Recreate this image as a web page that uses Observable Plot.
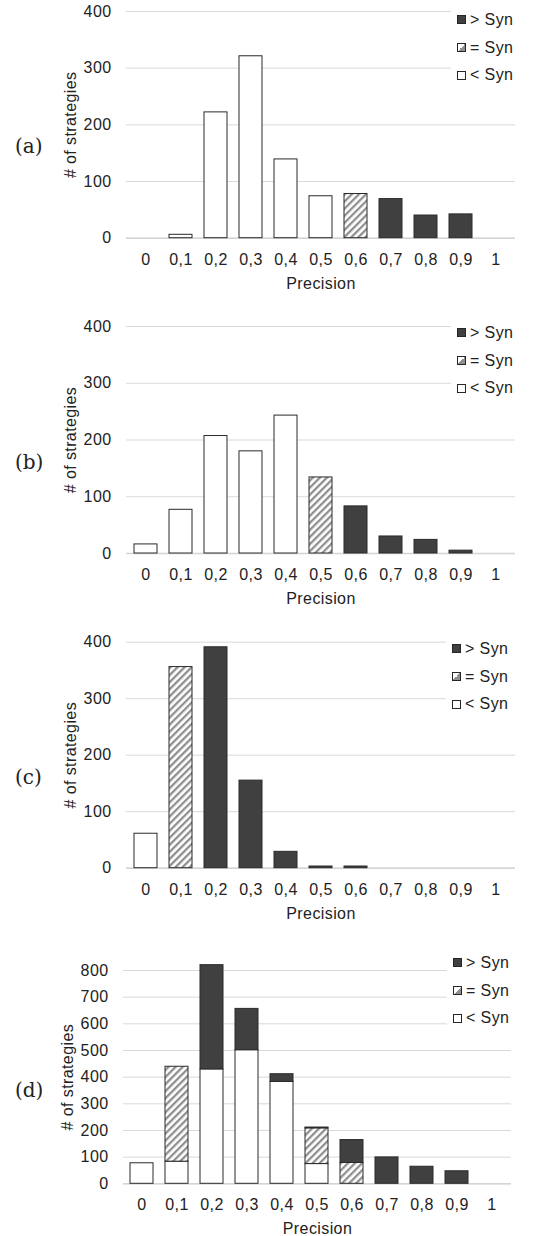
<!DOCTYPE html>
<html><head><meta charset="utf-8">
<script src="https://cdn.jsdelivr.net/npm/d3@7"></script>
<script src="https://cdn.jsdelivr.net/npm/@observablehq/plot@0.6"></script>
<style>
body{margin:0;background:#fff;font-family:"Liberation Sans",Arial,sans-serif;}
#root{position:relative;width:533px;height:1236px;overflow:hidden;background:#fff;}
.panel{position:absolute;left:0;}
.panel svg text{letter-spacing:0.4px;}
.tag{position:absolute;left:15px;font-family:"DejaVu Serif","Liberation Serif",serif;font-size:20px;line-height:20px;color:#222;}
.legend{position:absolute;background:#fff;font-size:16px;letter-spacing:0.4px;color:#222;padding-left:6px;}
.legend .row{display:flex;align-items:center;height:27.7px;}
.sw{width:7px;height:7px;border:1px solid #262626;margin-right:4px;}
</style>
</head><body>
<div id="root"></div>
<script>
const categories = ["0","0,1","0,2","0,3","0,4","0,5","0,6","0,7","0,8","0,9","1"];
const seriesNames = ["< Syn","= Syn","> Syn"];
const legendLabels = ["> Syn","= Syn","< Syn"];
const panelTags = ["(a)","(b)","(c)","(d)"];

const aLess    = [0,6,222,321,139,74,0,0,0,0,0];
const aEqual   = [0,0,0,0,0,0,78,0,0,0,0];
const aGreater = [0,0,0,0,0,0,0,69,40,42,0];

const bLess    = [16,77,207,180,243,0,0,0,0,0,0];
const bEqual   = [0,0,0,0,0,134,0,0,0,0,0];
const bGreater = [0,0,0,0,0,0,83,30,24,5,0];

const cLess    = [61,0,0,0,0,0,0,0,0,0,0];
const cEqual   = [0,356,0,0,0,0,0,0,0,0,0];
const cGreater = [0,0,391,155,29,3,3,0,0,0,0];

const dLess    = [77,83,429,501,382,74,0,0,0,0,0];
const dEqual   = [0,356,0,0,0,134,78,0,0,0,0];
const dGreater = [0,0,391,155,29,3,86,99,64,47,0];

const yTicks400 = [0,100,200,300,400];
const yTicks800 = [0,100,200,300,400,500,600,700,800];

const root = document.getElementById("root");
const ns = "http://www.w3.org/2000/svg";

function makePanel(cfg) {
  const rows = [];
  categories.forEach((c, i) => {
    [[seriesNames[0], cfg.less[i]], [seriesNames[1], cfg.equal[i]], [seriesNames[2], cfg.greater[i]]]
      .forEach(([s, v]) => { if (v > 0) rows.push({cat: c, series: s, value: v}); });
  });
  const hatchId = "hatch-" + cfg.id;
  const innerH = cfg.height - cfg.mt - cfg.mb;
  const svg = Plot.plot({
    width: 533, height: cfg.height,
    marginLeft: cfg.ml, marginRight: cfg.mr, marginTop: cfg.mt, marginBottom: cfg.mb,
    style: {fontFamily: "'Liberation Sans', Arial, sans-serif", fontSize: "16px", color: "#222", background: "white"},
    x: {domain: categories, paddingInner: 0.33, paddingOuter: 0.165, label: null},
    y: {domain: [0, cfg.ticks[cfg.ticks.length - 1]], label: null},
    color: {type: "ordinal", domain: seriesNames, range: ["#ffffff", `url(#${hatchId})`, "#404040"]},
    marks: [
      Plot.gridY(cfg.ticks, {stroke: "#d9d9d9", strokeOpacity: 1, strokeWidth: 1}),
      Plot.ruleY([0], {stroke: "#d4d4d4", strokeWidth: 1.6}),
      Plot.barY(rows, {x: "cat", y: "value", fill: "series", stroke: "#2a2a2a", strokeWidth: 1}),
      Plot.axisY(cfg.ticks, {tickSize: 0, tickPadding: 15, fontSize: 16, label: null}),
      Plot.axisX({tickSize: 0, tickPadding: 15, fontSize: 16, label: null}),
      Plot.text(["Precision"], {frameAnchor: "bottom", dy: cfg.pdy, lineAnchor: "middle", textAnchor: "middle", fontSize: 16}),
      Plot.text(["# of strategies"], {frameAnchor: "left", dx: -56, rotate: -90, textAnchor: "middle", lineAnchor: "middle", fontSize: 16})
    ]
  });
  const defs = document.createElementNS(ns, "defs");
  defs.innerHTML = `<pattern id="${hatchId}" patternUnits="userSpaceOnUse" width="5" height="5" patternTransform="rotate(45)"><rect width="5" height="5" fill="#ffffff"/><rect width="2.3" height="5" fill="#8f8f8f"/></pattern>`;
  svg.insertBefore(defs, svg.firstChild);

  const wrap = document.createElement("div");
  wrap.className = "panel";
  wrap.style.top = cfg.top + "px";
  wrap.appendChild(svg);
  root.appendChild(wrap);

  const tag = document.createElement("div");
  tag.className = "tag";
  tag.textContent = cfg.tag;
  tag.style.top = (cfg.top + cfg.mt + innerH / 2 + cfg.tagOff - 10) + "px";
  root.appendChild(tag);

  const lg = document.createElement("div");
  lg.className = "legend";
  lg.style.left = cfg.lx + "px";
  lg.style.top = cfg.ly + "px";
  lg.style.width = (533 - cfg.lx) + "px";
  legendLabels.forEach((lab, k) => {
    const row = document.createElement("div");
    row.className = "row";
    const sw = document.createElement("div");
    sw.className = "sw";
    sw.style.background = k === 0 ? "#404040" : k === 1 ? "linear-gradient(135deg,#ffffff 50%,#8f8f8f 50%)" : "#ffffff";
    const t = document.createElement("span");
    t.textContent = lab;
    row.appendChild(sw); row.appendChild(t);
    lg.appendChild(row);
  });
  root.appendChild(lg);
}

makePanel({id: "a", tag: panelTags[0], less: aLess, equal: aEqual, greater: aGreater, ticks: yTicks400,
  top: 0, height: 300, mt: 11, mb: 62.3, ml: 126, mr: 18, pdy: 45.5, tagOff: 22, lx: 451, ly: 6});
makePanel({id: "b", tag: panelTags[1], less: bLess, equal: bEqual, greater: bGreater, ticks: yTicks400,
  top: 315, height: 300, mt: 11, mb: 62, ml: 126, mr: 18, pdy: 45.5, tagOff: 22, lx: 451, ly: 319});
makePanel({id: "c", tag: panelTags[2], less: cLess, equal: cEqual, greater: cGreater, ticks: yTicks400,
  top: 631, height: 300, mt: 10.7, mb: 63.3, ml: 126, mr: 18, pdy: 45.5, tagOff: 22, lx: 446, ly: 635});
makePanel({id: "d", tag: panelTags[3], less: dLess, equal: dEqual, greater: dGreater, ticks: yTicks800,
  top: 958, height: 278, mt: 12, mb: 52.7, ml: 123, mr: 22, pdy: 44.7, tagOff: 13, lx: 447, ly: 949});
</script>
</body></html>
